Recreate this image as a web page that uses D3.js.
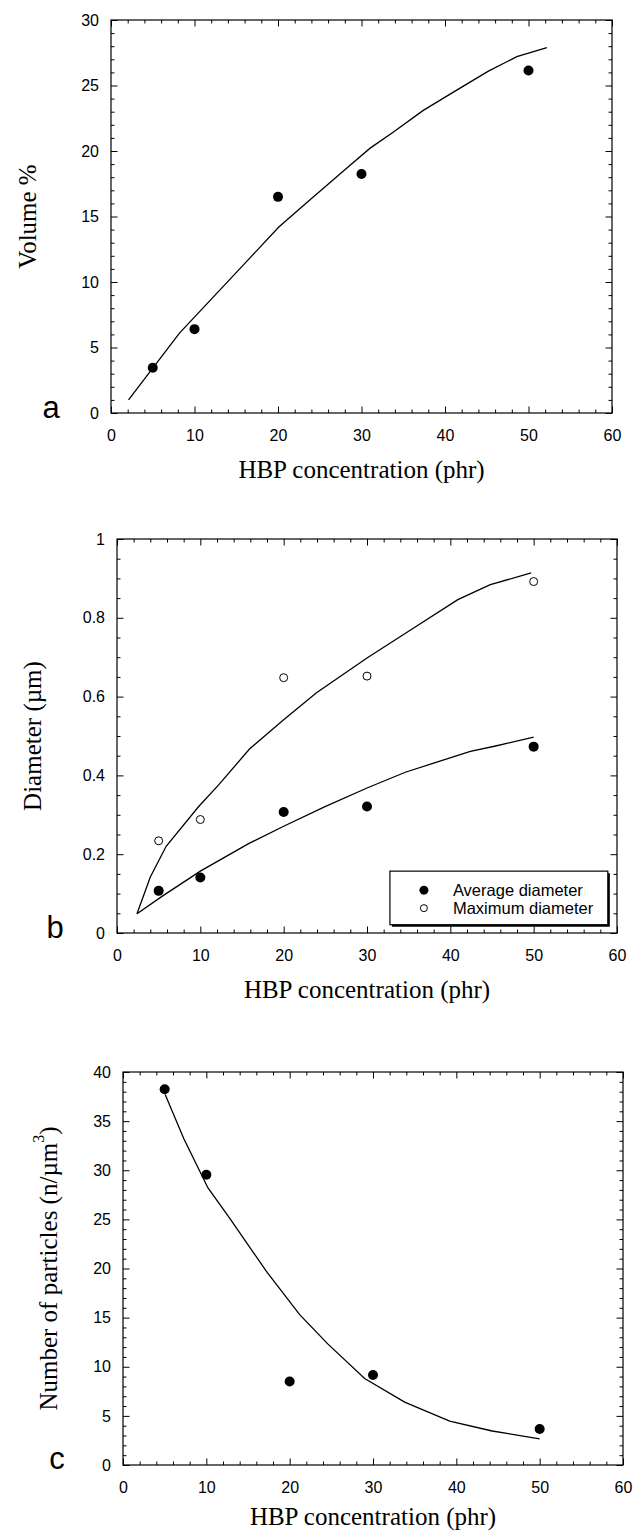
<!DOCTYPE html>
<html>
<head>
<meta charset="utf-8">
<script src="https://cdn.jsdelivr.net/npm/d3@7"></script>
<style>
  html, body { margin: 0; padding: 0; background: #fff; }
  svg { display: block; }
  .tick text { font-family: "Liberation Sans", Arial, sans-serif; font-size: 16px; fill: #000; }
  .axis-title { font-family: "Liberation Serif", "Times New Roman", serif; font-size: 25px; fill: #000; }
  .panel-letter { font-family: "Liberation Sans", Arial, sans-serif; font-size: 31px; fill: #000; }
  .legend text { font-family: "Liberation Sans", Arial, sans-serif; font-size: 16.5px; fill: #000; }
</style>
</head>
<body>
<svg id="chart" width="637" height="1531"></svg>
<script>
// HBP concentration levels (phr) shared by all panels
const concentration = [5, 10, 20, 30, 50];

// Panel a: volume fraction of dispersed phase
const volumePct = [3.45, 6.4, 16.5, 18.25, 26.15];
const volumeFitX = [2.1, 8.2, 12.1, 16, 20.1, 23.7, 28.6, 31, 33.7, 37.4, 41.8, 45.2, 48.6, 52.2];
const volumeFitY = [1.0, 6.1, 8.75, 11.4, 14.2, 16.2, 18.9, 20.2, 21.4, 23.1, 24.8, 26.1, 27.2, 27.9];

// Panel b: particle diameters (µm)
const avgDiameter = [0.107, 0.141, 0.307, 0.321, 0.473];
const maxDiameter = [0.234, 0.288, 0.648, 0.652, 0.892];
const maxFitX = [2.4, 4.0, 5.9, 9.8, 12.2, 15.9, 20, 23.9, 30, 35.6, 40.9, 44.8, 49.7];
const maxFitY = [0.049, 0.142, 0.22, 0.321, 0.376, 0.467, 0.541, 0.609, 0.698, 0.774, 0.846, 0.884, 0.914];
const avgFitX = [2.4, 5.4, 10, 15.9, 20, 24.9, 30, 34.6, 38, 42.4, 45.3, 50];
const avgFitY = [0.049, 0.093, 0.157, 0.228, 0.271, 0.320, 0.368, 0.408, 0.431, 0.461, 0.474, 0.497];

// Panel c: number density of particles
const particleCount = [38.25, 29.55, 8.5, 9.16, 3.67];
const countFitX = [5.06, 7.3, 10.2, 12.9, 17.3, 21.2, 24.6, 29, 33.8, 39.2, 44.3, 50];
const countFitY = [37.7, 33.2, 28.2, 25, 19.6, 15.3, 12.3, 8.8, 6.4, 4.46, 3.46, 2.67];

// Axis tick definitions
const xTicks = [0, 10, 20, 30, 40, 50, 60];
const volumeTicks = [0, 5, 10, 15, 20, 25, 30];
const diameterTicks = [0, 0.2, 0.4, 0.6, 0.8, 1];
const countTicks = [0, 5, 10, 15, 20, 25, 30, 35, 40];

const legendLabels = ["Average diameter", "Maximum diameter"];

const svg = d3.select("#chart");
const zip = (xs, ys) => xs.map((x, i) => [x, ys[i]]);

function panel(opts) {
  const { left, right, top, bottom, yDomain, yTicks, yMinorStep, yFormat, yTitle, letter, letterPos, yTitleX, xTitleY } = opts;
  const g = svg.append("g");
  const x = d3.scaleLinear().domain([0, 60]).range([left, right]);
  const y = d3.scaleLinear().domain(yDomain).range([bottom, top]);

  const xMinor = d3.range(0, 60.001, 2).filter(v => v % 10 !== 0);
  const yMinor = d3.range(yDomain[0], yDomain[1] + 1e-9, yMinorStep)
    .map(v => +v.toFixed(4))
    .filter(v => !yTicks.some(t => Math.abs(t - v) < 1e-6));

  const major = 6.5, minor = 3.5;

  // bottom axis with labels
  g.append("g").attr("transform", `translate(0,${bottom})`)
    .call(d3.axisBottom(x).tickValues(xTicks).tickSize(-major).tickPadding(17).tickFormat(d3.format("d")));
  g.append("g").attr("transform", `translate(0,${bottom})`)
    .call(d3.axisBottom(x).tickValues(xMinor).tickSize(-minor).tickFormat(""));
  // top axis (ticks only)
  g.append("g").attr("transform", `translate(0,${top})`)
    .call(d3.axisTop(x).tickValues(xTicks).tickSize(-major).tickFormat(""));
  g.append("g").attr("transform", `translate(0,${top})`)
    .call(d3.axisTop(x).tickValues(xMinor).tickSize(-minor).tickFormat(""));
  // left axis with labels
  g.append("g").attr("transform", `translate(${left},0)`)
    .call(d3.axisLeft(y).tickValues(yTicks).tickSize(-major).tickPadding(12).tickFormat(yFormat));
  g.append("g").attr("transform", `translate(${left},0)`)
    .call(d3.axisLeft(y).tickValues(yMinor).tickSize(-minor).tickFormat(""));
  // right axis (ticks only)
  g.append("g").attr("transform", `translate(${right},0)`)
    .call(d3.axisRight(y).tickValues(yTicks).tickSize(-major).tickFormat(""));
  g.append("g").attr("transform", `translate(${right},0)`)
    .call(d3.axisRight(y).tickValues(yMinor).tickSize(-minor).tickFormat(""));

  g.selectAll(".domain").remove();
  g.selectAll(".tick line").attr("stroke", "#000").attr("stroke-width", 1);

  // frame
  g.append("rect").attr("x", left).attr("y", top)
    .attr("width", right - left).attr("height", bottom - top)
    .attr("fill", "none").attr("stroke", "#000").attr("stroke-width", 1.2);

  // axis titles
  g.append("text").attr("class", "axis-title")
    .attr("x", (left + right) / 2).attr("y", xTitleY)
    .attr("text-anchor", "middle").attr("dominant-baseline", "central")
    .text("HBP concentration (phr)");
  const yt = g.append("text").attr("class", "axis-title")
    .attr("transform", `translate(${yTitleX},${(top + bottom) / 2}) rotate(-90)`)
    .attr("text-anchor", "middle").attr("dominant-baseline", "central");
  yTitle(yt);

  g.append("text").attr("class", "panel-letter")
    .attr("x", letterPos[0]).attr("y", letterPos[1])
    .attr("text-anchor", "middle").text(letter);

  return { g, x, y };
}

const line = (x, y) => d3.line().x(d => x(d[0])).y(d => y(d[1]));

// ---------- Panel a ----------
{
  const { g, x, y } = panel({
    left: 111, right: 612, top: 20, bottom: 413,
    yDomain: [0, 30], yTicks: volumeTicks, yMinorStep: 1, yFormat: d3.format("d"),
    yTitle: t => t.text("Volume %"), yTitleX: 27, xTitleY: 469,
    letter: "a", letterPos: [51, 418]
  });
  g.append("path").datum(zip(volumeFitX, volumeFitY))
    .attr("d", line(x, y)).attr("fill", "none").attr("stroke", "#000").attr("stroke-width", 1.3);
  g.selectAll("circle.pt").data(zip(concentration, volumePct)).join("circle")
    .attr("class", "pt").attr("cx", d => x(d[0])).attr("cy", d => y(d[1])).attr("r", 5).attr("fill", "#000");
}

// ---------- Panel b ----------
{
  const { g, x, y } = panel({
    left: 117, right: 617, top: 539, bottom: 933,
    yDomain: [0, 1], yTicks: diameterTicks, yMinorStep: 0.05,
    yFormat: d => d === 0 || d === 1 ? d3.format("d")(d) : d3.format(".1f")(d),
    yTitle: t => t.text("Diameter (\u00b5m)"), yTitleX: 32, xTitleY: 989,
    letter: "b", letterPos: [55, 938]
  });
  g.append("path").datum(zip(maxFitX, maxFitY))
    .attr("d", line(x, y)).attr("fill", "none").attr("stroke", "#000").attr("stroke-width", 1.3);
  g.append("path").datum(zip(avgFitX, avgFitY))
    .attr("d", line(x, y)).attr("fill", "none").attr("stroke", "#000").attr("stroke-width", 1.3);
  g.selectAll("circle.avg").data(zip(concentration, avgDiameter)).join("circle")
    .attr("class", "avg").attr("cx", d => x(d[0])).attr("cy", d => y(d[1])).attr("r", 5).attr("fill", "#000");
  g.selectAll("circle.max").data(zip(concentration, maxDiameter)).join("circle")
    .attr("class", "max").attr("cx", d => x(d[0])).attr("cy", d => y(d[1])).attr("r", 4)
    .attr("fill", "#fff").attr("stroke", "#000").attr("stroke-width", 1);

  // legend with drop shadow
  const lx = x(32.75), ly = y(0.157), lw = x(58.9) - x(32.75), lh = y(0.021) - y(0.157);
  const lg = g.append("g").attr("class", "legend");
  lg.append("rect").attr("x", lx + 2).attr("y", ly + 2).attr("width", lw).attr("height", lh).attr("fill", "#000");
  lg.append("rect").attr("x", lx).attr("y", ly).attr("width", lw).attr("height", lh)
    .attr("fill", "#fff").attr("stroke", "#000").attr("stroke-width", 1.2);
  const rows = [ly + 19, ly + 37];
  lg.append("circle").attr("cx", lx + 34).attr("cy", rows[0]).attr("r", 4.5).attr("fill", "#000");
  lg.append("circle").attr("cx", lx + 34).attr("cy", rows[1]).attr("r", 3.5)
    .attr("fill", "#fff").attr("stroke", "#000").attr("stroke-width", 1);
  legendLabels.forEach((lab, i) => {
    lg.append("text").attr("x", lx + 63).attr("y", rows[i]).attr("dominant-baseline", "central").text(lab);
  });
}

// ---------- Panel c ----------
{
  const { g, x, y } = panel({
    left: 123, right: 623, top: 1072, bottom: 1465,
    yDomain: [0, 40], yTicks: countTicks, yMinorStep: 1, yFormat: d3.format("d"),
    yTitle: t => {
      t.append("tspan").text("Number of particles (n/\u00b5m");
      t.append("tspan").attr("dy", -10).attr("font-size", "16px").text("3");
      t.append("tspan").attr("dy", 10).text(")");
    },
    yTitleX: 48, xTitleY: 1516,
    letter: "c", letterPos: [57, 1469]
  });
  g.append("path").datum(zip(countFitX, countFitY))
    .attr("d", line(x, y)).attr("fill", "none").attr("stroke", "#000").attr("stroke-width", 1.3);
  g.selectAll("circle.pt").data(zip(concentration, particleCount)).join("circle")
    .attr("class", "pt").attr("cx", d => x(d[0])).attr("cy", d => y(d[1])).attr("r", 5).attr("fill", "#000");
}
</script>
</body>
</html>
